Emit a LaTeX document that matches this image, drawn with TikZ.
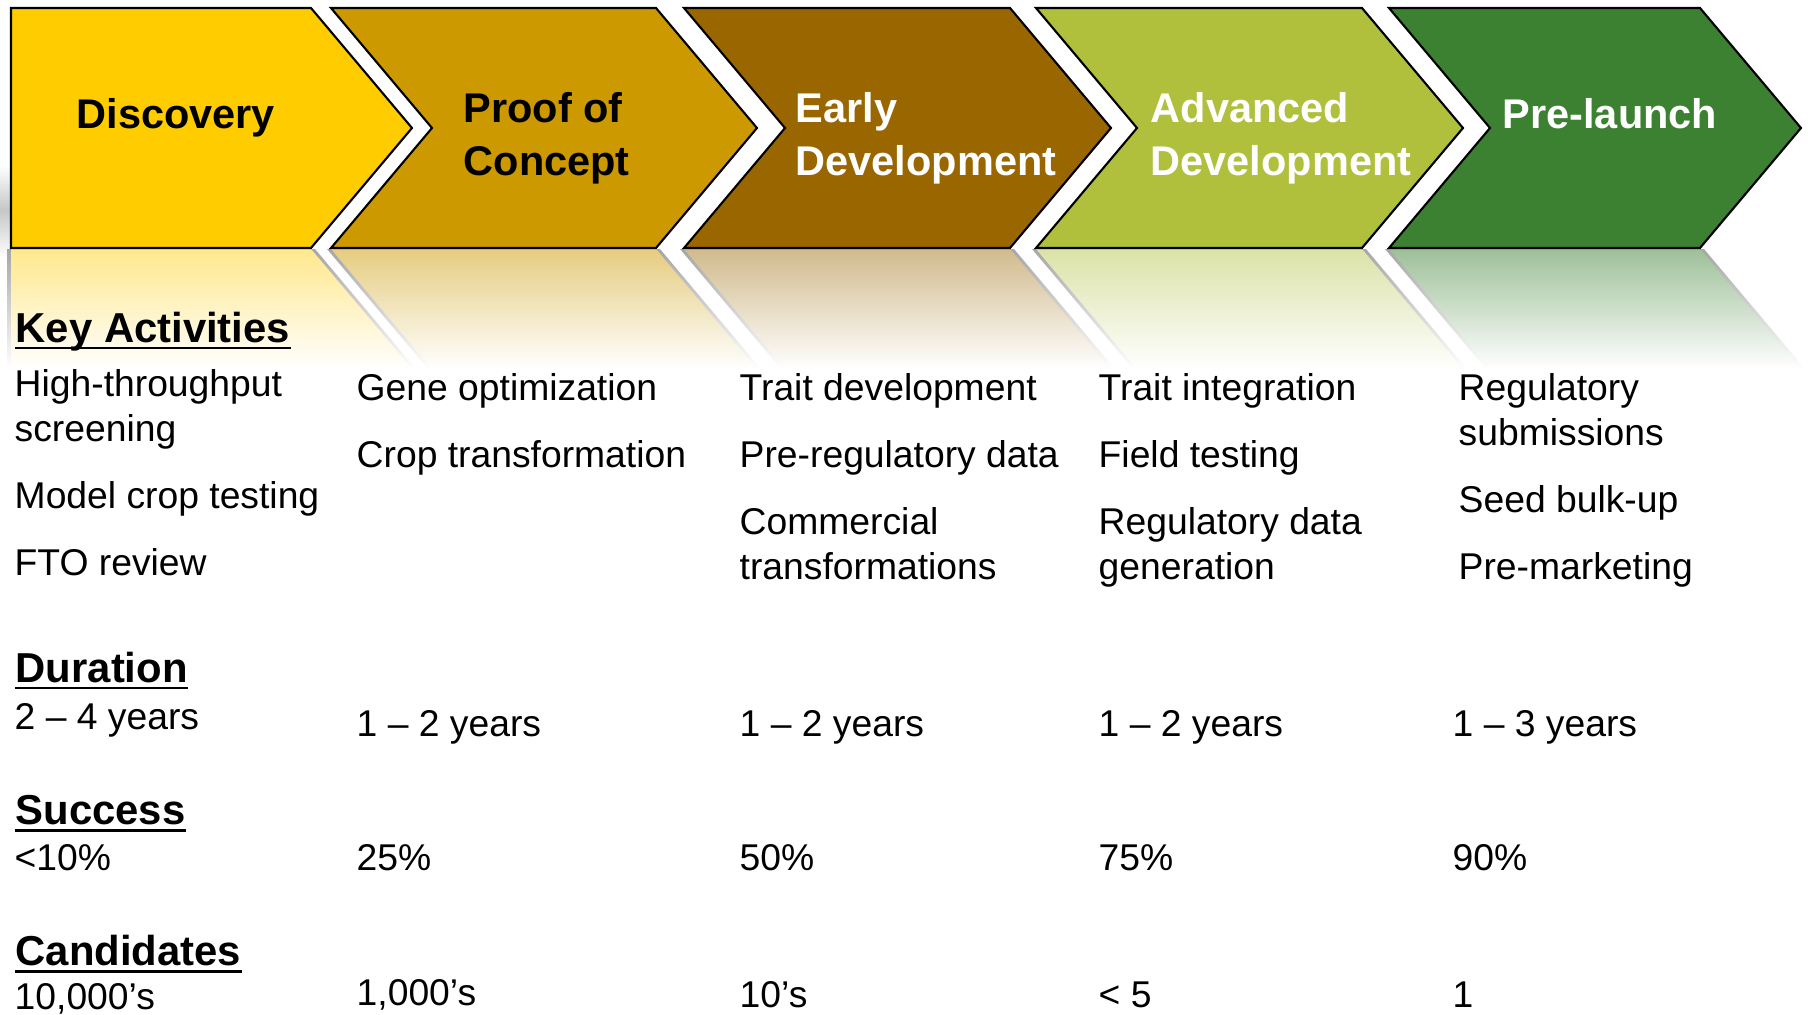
\documentclass[tikz,border=0pt]{standalone}
\usepackage{fontspec}
\setmainfont{Liberation Sans}
\usetikzlibrary{calc}
\definecolor{discovery}{RGB}{255,204,0}
\definecolor{proof}{RGB}{204,153,0}
\definecolor{early}{RGB}{153,102,0}
\definecolor{advanced}{RGB}{176,191,60}
\definecolor{prelaunch}{RGB}{60,128,50}
\def\chevshape[#1](#2:#3){\draw[#1] (#2, 8) -- (#3, 8) -- ({#3+101}, 128) -- (#3, 248) -- (#2, 248) -- ({#2+101}, 128) -- cycle;}
\def\chevmirror[#1](#2:#3){\shade[#1] (#2, 249) -- (#3, 249) -- ({#3+101}, 369) -- ({#2+101}, 369) -- cycle;}

\begin{document}
\begin{tikzpicture}[x=0.01cm, y=-0.01cm,
		title/.style={anchor=base west, inner sep=0, font=\bfseries\fontsize{11.8}{14.5}\selectfont},
		head/.style={anchor=base west, inner sep=0, font=\bfseries\fontsize{11.9}{14.5}\selectfont},
		body/.style={anchor=base west, inner sep=0, font=\fontsize{10.6}{12.8}\selectfont},
		rim/.style={top color=black!35, bottom color=white},
		uline/.style={line width=0.85pt}]
			%%%%% START %%%%%
			
			\useasboundingbox (0, 0) rectangle (1808, 1015);
			\clip (0, 0) rectangle (1808, 1015);
			
			% soft shadow at the left
			\shade[top color=white, bottom color=black!22] (0, 165) rectangle (11, 210);
			\shade[top color=black!22, bottom color=white] (0, 210) rectangle (11, 258);
			
			% reflections
			\shade[rim] (7, 249) -- (315, 249) -- (416, 369) -- (7, 369) -- cycle;
			\shade[top color=discovery!45!white, bottom color=white] (11, 249) -- (311, 249) -- (412, 369) -- (11, 369) -- cycle;
			\chevmirror[rim](327:660)
			\chevmirror[top color=proof!50!white, bottom color=white](331:656)
			\chevmirror[rim](680:1014)
			\chevmirror[top color=early!45!white, bottom color=white](684:1010)
			\chevmirror[rim](1032:1366)
			\chevmirror[top color=advanced!45!white, bottom color=white](1036:1362)
			\chevmirror[rim](1385:1704)
			\chevmirror[top color=prelaunch!50!white, bottom color=white](1389:1700)
			
			% chevrons
			\draw[fill=discovery, line width=0.6pt] (11, 8) -- (311, 8) -- (412, 128) -- (311, 248) -- (11, 248) -- cycle;
			\chevshape[fill=proof, line width=0.6pt](331:656)
			\chevshape[fill=early, line width=0.6pt](684:1010)
			\chevshape[fill=advanced, line width=0.6pt](1036:1362)
			\chevshape[fill=prelaunch, line width=0.6pt](1389:1700)
			
			\node[title] (disc) at (76, 128) {Discovery};
			\node[title] (poc1) at (463, 123) {Proof of};
			\node[title] (poc2) at (463, 175) {Concept};
			\node[title, white] (ed1) at (795, 123) {Early};
			\node[title, white] (ed2) at (795, 175) {Development};
			\node[title, white] (ad1) at (1150, 123) {Advanced};
			\node[title, white] (ad2) at (1150, 175) {Development};
			\node[title, white] (pl) at (1502, 128) {Pre-launch};
			
			% headings
			\node[head] (ka) at (15, 342) {Key Activities};
			\node[head] (dur) at (15, 682) {Duration};
			\node[head] (suc) at (15, 824) {Success};
			\node[head] (can) at (15, 965) {Candidates};
			\draw[uline] ($(ka.base west)+(0, 6)$) -- ($(ka.base east)+(0, 6)$);
			\draw[uline] ($(dur.base west)+(0, 6)$) -- ($(dur.base east)+(0, 6)$);
			\draw[uline] ($(suc.base west)+(0, 6)$) -- ($(suc.base east)+(0, 6)$);
			\draw[uline] ($(can.base west)+(0, 6)$) -- ($(can.base east)+(0, 6)$);
			
			% key activities
			\node[body] (a1) at (14, 396) {High-throughput};
			\node[body] (a2) at (14, 441) {screening};
			\node[body] (a3) at (14, 508) {Model crop testing};
			\node[body] (a4) at (14, 575) {FTO review};
			
			\node[body] (b1) at (356, 400) {Gene optimization};
			\node[body] (b2) at (356, 467) {Crop transformation};
			
			\node[body] (c1) at (739, 400) {Trait development};
			\node[body] (c2) at (739, 467) {Pre-regulatory data};
			\node[body] (c3) at (739, 534) {Commercial};
			\node[body] (c4) at (739, 579) {transformations};
			
			\node[body] (d1) at (1098, 400) {Trait integration};
			\node[body] (d2) at (1098, 467) {Field testing};
			\node[body] (d3) at (1098, 534) {Regulatory data};
			\node[body] (d4) at (1098, 579) {generation};
			
			\node[body] (e1) at (1458, 400) {Regulatory};
			\node[body] (e2) at (1458, 445) {submissions};
			\node[body] (e3) at (1458, 512) {Seed bulk-up};
			\node[body] (e4) at (1458, 579) {Pre-marketing};
			
			% duration
			\node[body] (dur1) at (14, 729) {2 – 4 years};
			\node[body] (dur2) at (356, 736) {1 – 2 years};
			\node[body] (dur3) at (739, 736) {1 – 2 years};
			\node[body] (dur4) at (1098, 736) {1 – 2 years};
			\node[body] (dur5) at (1452, 736) {1 – 3 years};
			
			% success
			\node[body] (suc1) at (14, 870) {<10\%};
			\node[body] (suc2) at (356, 870) {25\%};
			\node[body] (suc3) at (739, 870) {50\%};
			\node[body] (suc4) at (1098, 870) {75\%};
			\node[body] (suc5) at (1452, 870) {90\%};
			
			% candidates
			\node[body] (can1) at (14, 1009) {10,000’s};
			\node[body] (can2) at (356, 1005) {1,000’s};
			\node[body] (can3) at (739, 1007) {10’s};
			\node[body] (can4) at (1098, 1007) {< 5};
			\node[body] (can5) at (1452, 1007) {1};
			
			%%%%% END %%%%%
		\end{tikzpicture}
\end{document}
